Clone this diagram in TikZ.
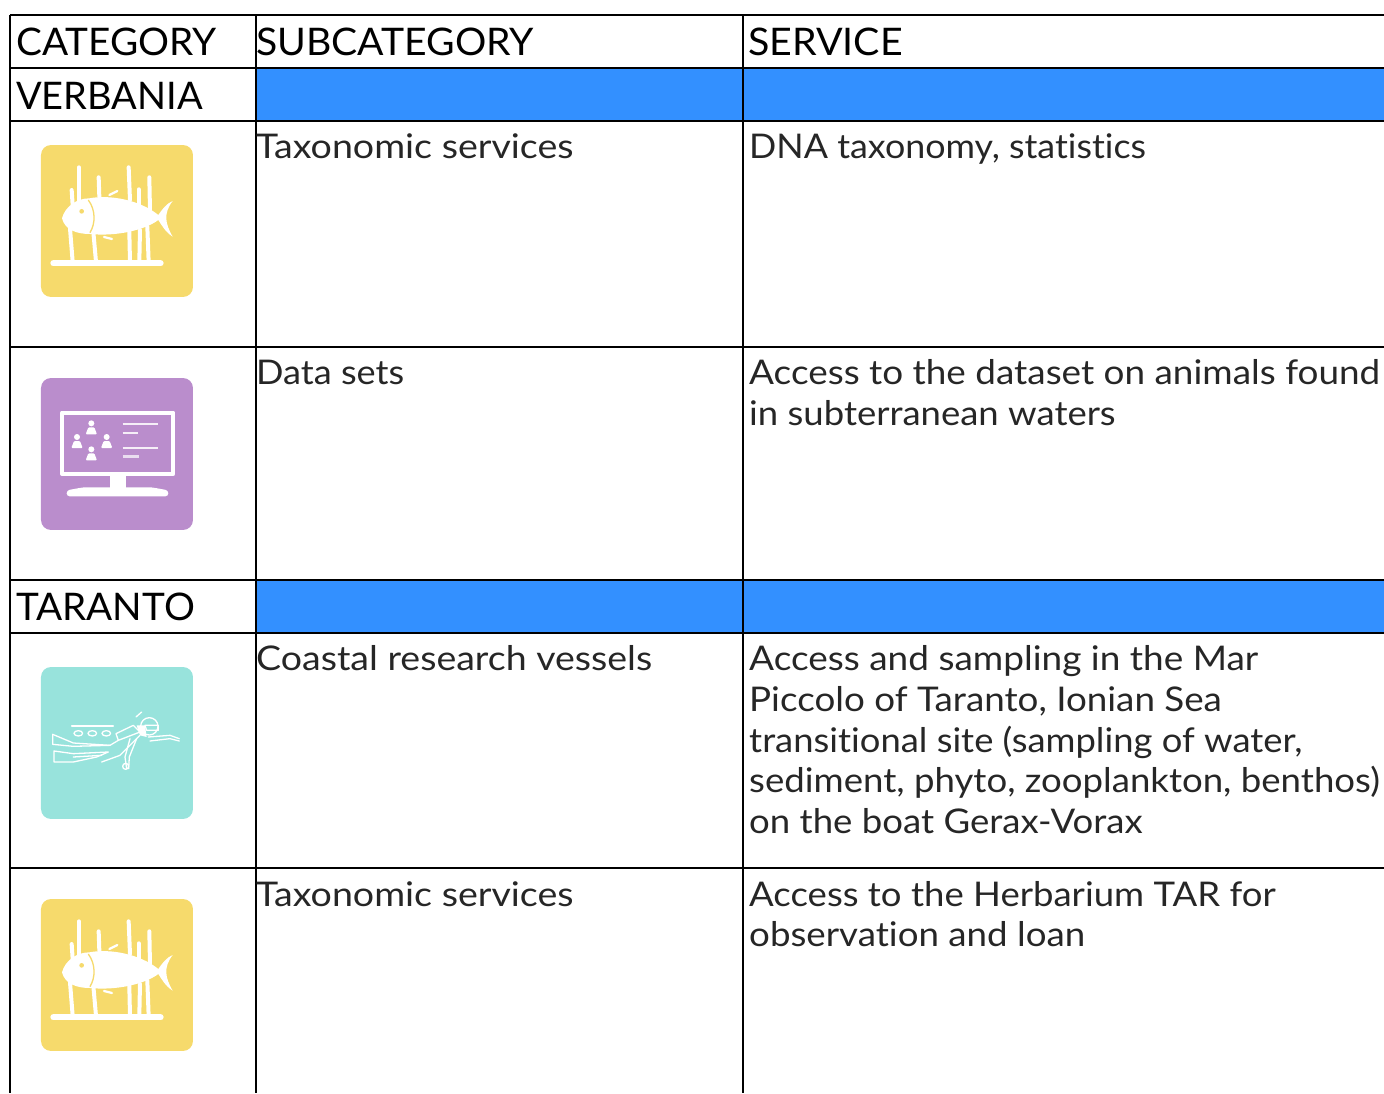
\documentclass[tikz,border=0pt]{standalone}
\usepackage{graphicx}
\usepackage{fontspec}
\setmainfont{Lato}[FakeStretch=1.07,Ligatures=NoCommon]
\newcommand{\wx}[2]{\scalebox{#1}[1]{#2}}
\tikzset{
  txt/.style={anchor=base west,inner sep=0pt,font=\fontsize{34}{34}\selectfont,text=black!85},
  hdr/.style={anchor=base west,inner sep=0pt,font=\fontsize{38}{38}\selectfont,text=black},
  rule/.style={draw=black,line width=1.5pt},
  band/.style={fill=bandblue,draw=none},
  wl/.style={draw=white,line width=#1,line cap=round,line join=round},
  wl/.default=2pt
}
\definecolor{bandblue}{HTML}{3390FF}
\definecolor{iyellow}{HTML}{F6DA6C}
\definecolor{ipurple}{HTML}{BA8DCC}
\definecolor{iteal}{HTML}{98E3DC}
\newcommand{\fishicon}[2]{%
\begin{scope}[shift={(#1,#2)},x=0.3333pt,y=-0.3333pt]
 \fill[iyellow,rounded corners=10pt] (33,30) rectangle (489,486);
 \draw[wl=6pt] (70,385) -- (392,385);
 \foreach \a/\b/\c/\d in {147/97/147/205,125/165/128/210,206/127/208/185,296/97/300/195,326/163/326/210,358/127/360/225,120/280/128/380,190/290/198/380,298/290/300/380,330/285/328/380,352/275/356/380}{\draw[wl=4pt] (\a,\b) -- (\c,\d);}
 \fill[white] (96,250) .. controls (105,215) and (140,190) .. (178,190) .. controls (240,178) and (330,195) .. (385,240) .. controls (395,225) and (410,205) .. (428,198) .. controls (400,235) and (405,265) .. (428,305) .. controls (405,290) and (395,270) .. (385,255) .. controls (345,285) and (260,305) .. (180,297) .. controls (140,297) and (105,285) .. (96,250) -- cycle;
 \draw[iyellow,line width=1.3pt] (175,195) .. controls (197,225) and (197,265) .. (180,293);
 \fill[iyellow] (155,229) circle (7);
 \draw[wl=2.2pt] (238,180) -- (262,168);
 \draw[wl=2.2pt] (222,306) -- (246,312);
\end{scope}}
\newcommand{\monitoricon}[2]{%
\begin{scope}[shift={(#1,#2)},x=0.3333pt,y=-0.3333pt]
 \fill[ipurple,rounded corners=10pt] (33,30) rectangle (489,486);
 \draw[white,line width=4pt,line join=round] (96,134) rectangle (430,318);
 \fill[white] (240,318) rectangle (288,362);
 \fill[white,rounded corners=3pt] (110,367) -- (160,358) -- (365,358) -- (415,367) -- (415,385) -- (110,385) -- cycle;
 \foreach \a/\b in {184/158,141/199,230/199,184/236}{
  \fill[white] (\a,\b+8) circle (9);
  \fill[white,rounded corners=1pt] (\a-17,\b+41) -- (\a-9,\b+20) -- (\a+9,\b+20) -- (\a+17,\b+41) -- cycle;}
 \draw[draw=white!85!ipurple,line width=2.2pt] (278,167) -- (385,167);
 \draw[draw=white!85!ipurple,line width=2.2pt] (278,194) -- (325,194);
 \draw[draw=white!85!ipurple,line width=2.2pt] (278,240) -- (385,240);
 \draw[draw=white!70!ipurple,line width=3pt] (278,267) -- (328,267);
\end{scope}}
\newcommand{\divericon}[2]{%
\begin{scope}[shift={(#1,#2)},x=0.3333pt,y=-0.3333pt]
 \fill[iteal,rounded corners=10pt] (33,30) rectangle (489,486);
 \begin{scope}[every path/.style={wl=1.3pt}]
 \draw (125,207) -- (250,207);
 \draw (145,229) ellipse (13 and 8) (187,229) ellipse (13 and 8) (229,229) ellipse (13 and 8);
 \draw (258,230) -- (310,205) -- (330,225) -- (265,250) -- cycle;
 \draw (68,232) -- (130,258) -- (240,265) -- (265,250);
 \draw (68,232) -- (68,262) -- (130,268) -- (240,265);
 \draw (72,282) -- (130,290) -- (235,285) -- (200,300) -- (130,315) -- (72,315) -- cycle;
 \draw (130,300) -- (215,295);
 \draw (215,315) -- (270,295) -- (330,235);
 \draw (300,245) -- (285,300) -- (290,335);
 \draw (320,245) -- (298,300) -- (296,335);
 \draw (287,328) circle (9);
 \draw (358,208) circle (26);
 \draw (345,205) -- (385,205) -- (385,220) -- (350,220) -- cycle;
 \draw (355,240) -- (420,235) -- (448,245);
 \draw (360,252) -- (420,245) -- (448,252);
 \draw (318,180) -- (335,165);
 \end{scope}
 \fill[white] (320,205) -- (345,205) -- (350,240) -- (330,235) -- cycle;
\end{scope}}
\begin{document}
\begin{tikzpicture}[x=1pt,y=-1pt]
\useasboundingbox (0,0) rectangle (1384,1093);
\fill[band] (256,68) rectangle (1384,121);
\fill[band] (256,580) rectangle (1384,633);
% grid
\coordinate (t0) at (10,15); \coordinate (t0r) at (1384,15);
\coordinate (t1) at (10,68); \coordinate (t1r) at (1384,68);
\coordinate (t2) at (10,121); \coordinate (t2r) at (1384,121);
\coordinate (t3) at (10,347); \coordinate (t3r) at (1384,347);
\coordinate (t4) at (10,580); \coordinate (t4r) at (1384,580);
\coordinate (t5) at (10,633); \coordinate (t5r) at (1384,633);
\coordinate (t6) at (10,868); \coordinate (t6r) at (1384,868);
\foreach \n in {0,...,6}{\draw[rule] (t\n) -- (t\n r);}
\coordinate (a0) at (10,15); \coordinate (a1) at (10,1093);
\coordinate (b0) at (256,15); \coordinate (b1) at (256,1093);
\coordinate (c0) at (743,15); \coordinate (c1) at (743,1093);
\draw[rule] (a0) -- (a1);
\draw[rule] (b0) -- (b1);
\draw[rule] (c0) -- (c1);
% header
\node[hdr] (h1) at (16,55) {\wx{.952}{CATEGORY}};
\node[hdr] (h2) at (256,55) {\wx{.962}{SUBCATEGORY}};
\node[hdr] (h3) at (748,55) {\wx{.968}{SERVICE}};
\node[hdr] (v) at (16,109) {\wx{.934}{VERBANIA}};
\node[hdr] (tt) at (16,620) {\wx{.951}{TARANTO}};
% rows
\node[txt] (s1) at (256,158) {\wx{1.033}{Taxonomic services}};
\node[txt] (d1) at (749,158) {\wx{.985}{DNA taxonomy, statistics}};
\node[txt] (s2) at (256,384) {\wx{.993}{Data sets}};
\node[txt] (d2a) at (749,384) {\wx{1.014}{Access to the dataset on animals found}};
\node[txt] (d2b) at (749,425) {\wx{1.003}{in subterranean waters}};
\node[txt] (s3) at (256,670) {\wx{1.031}{Coastal research vessels}};
\node[txt] (d3a) at (749,670) {\wx{1.016}{Access and sampling in the Mar}};
\node[txt] (d3b) at (749,711) {\wx{1.011}{Piccolo of Taranto, Ionian Sea}};
\node[txt] (d3c) at (749,752) {transitional site (sampling of water,};
\node[txt] (d3d) at (749,792) {\wx{1.006}{sediment, phyto, zooplankton, benthos)}};
\node[txt] (d3e) at (749,833) {\wx{1.005}{on the boat Gerax-Vorax}};
\node[txt] (s4) at (256,906) {\wx{1.033}{Taxonomic services}};
\node[txt] (d4a) at (749,906) {\wx{1.004}{Access to the Herbarium TAR for}};
\node[txt] (d4b) at (749,946) {\wx{1.009}{observation and loan}};
% icons
\fishicon{30}{135}
\monitoricon{30}{368}
\divericon{30}{657}
\fishicon{30}{889}
\end{tikzpicture}
\end{document}
